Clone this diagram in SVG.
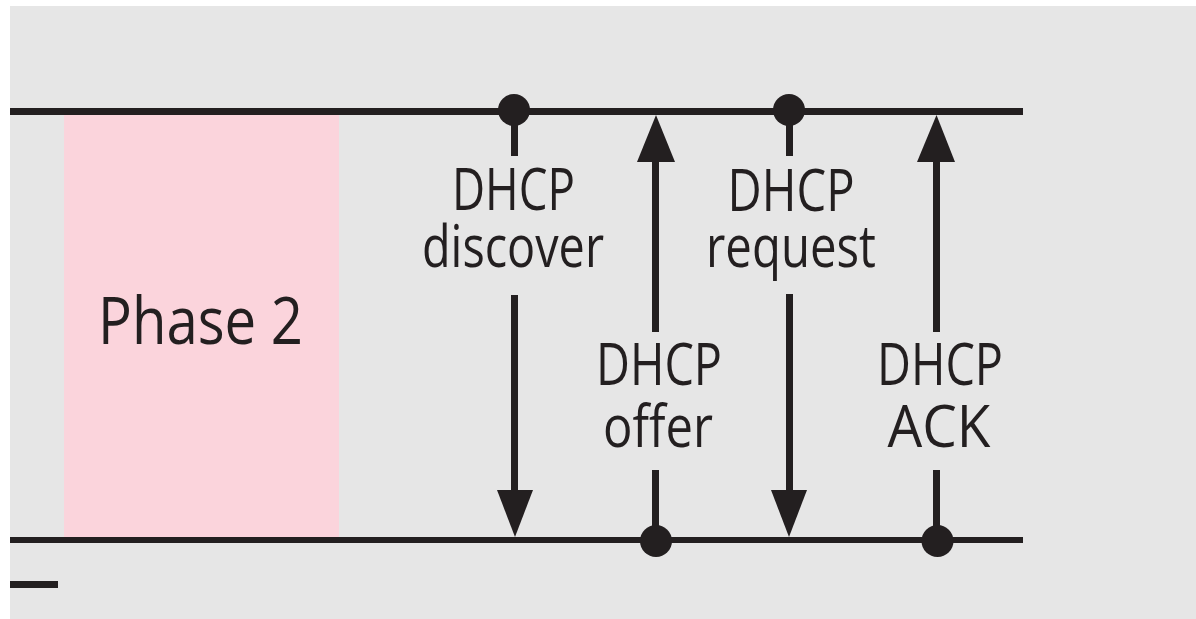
<svg xmlns="http://www.w3.org/2000/svg" width="1196" height="619" viewBox="0 0 1196 619">
<style>
.ln{stroke:#231f20;stroke-width:7;fill:none}
.dot{fill:#231f20}
.head{fill:#231f20}
.t{font-family:"Open Sans","Liberation Sans",sans-serif;font-size:58px;fill:#231f20;text-anchor:middle}
.p{font-family:"Open Sans","Liberation Sans",sans-serif;font-size:66px;fill:#231f20;text-anchor:middle}
</style>
<rect x="0" y="0" width="1196" height="619" fill="#ffffff"/>
<rect x="10" y="6" width="1186" height="613" fill="#e6e6e6"/>
<g id="phase2">
<rect x="64" y="115" width="275" height="422" fill="#fbd4dc"/>
<text class="p" x="200.5" y="344" textLength="205" lengthAdjust="spacingAndGlyphs">Phase 2</text>
</g>
<g id="timelines">
<line class="ln" x1="10" y1="111.5" x2="1023" y2="111.5"/>
<line class="ln" x1="10" y1="540" x2="1023" y2="540" style="stroke-width:6"/>
<line class="ln" x1="10" y1="584.5" x2="58" y2="584.5"/>
</g>
<g id="connectors">
<g id="discover">
<circle class="dot" cx="514" cy="110" r="16"/>
<line class="ln" x1="514.5" y1="110" x2="514.5" y2="156"/>
<line class="ln" x1="514.5" y1="295" x2="514.5" y2="495"/>
<polygon class="head" points="497,490 533,490 515,537"/>
</g>
<g id="offer">
<circle class="dot" cx="656" cy="541" r="16"/>
<line class="ln" x1="655.5" y1="541" x2="655.5" y2="470"/>
<line class="ln" x1="655.5" y1="332" x2="655.5" y2="158"/>
<polygon class="head" points="637,162 675,162 656,115"/>
</g>
<g id="request">
<circle class="dot" cx="789" cy="110" r="16"/>
<line class="ln" x1="789.5" y1="110" x2="789.5" y2="156"/>
<line class="ln" x1="789.5" y1="294" x2="789.5" y2="495"/>
<polygon class="head" points="771,490 807,490 789,537"/>
</g>
<g id="ack">
<circle class="dot" cx="937.5" cy="541" r="16"/>
<line class="ln" x1="936.5" y1="541" x2="936.5" y2="470"/>
<line class="ln" x1="936.5" y1="332" x2="936.5" y2="158"/>
<polygon class="head" points="917,162 955,162 936.5,115"/>
</g>
</g>
<g id="label-discover">
<text class="t" x="513.5" y="210" textLength="123" lengthAdjust="spacingAndGlyphs">DHCP</text>
<text class="t" x="513" y="267" textLength="182" lengthAdjust="spacingAndGlyphs">discover</text>
</g>
<g id="label-request">
<text class="t" x="791" y="211" textLength="127" lengthAdjust="spacingAndGlyphs">DHCP</text>
<text class="t" x="791" y="267" textLength="170" lengthAdjust="spacingAndGlyphs">request</text>
</g>
<g id="label-offer">
<text class="t" x="659" y="385" textLength="126" lengthAdjust="spacingAndGlyphs">DHCP</text>
<text class="t" x="658" y="447" textLength="110" lengthAdjust="spacingAndGlyphs">offer</text>
</g>
<g id="label-ack">
<text class="t" x="940" y="385" textLength="126" lengthAdjust="spacingAndGlyphs">DHCP</text>
<text class="t" x="939" y="447" textLength="103" lengthAdjust="spacingAndGlyphs">ACK</text>
</g>
</svg>
